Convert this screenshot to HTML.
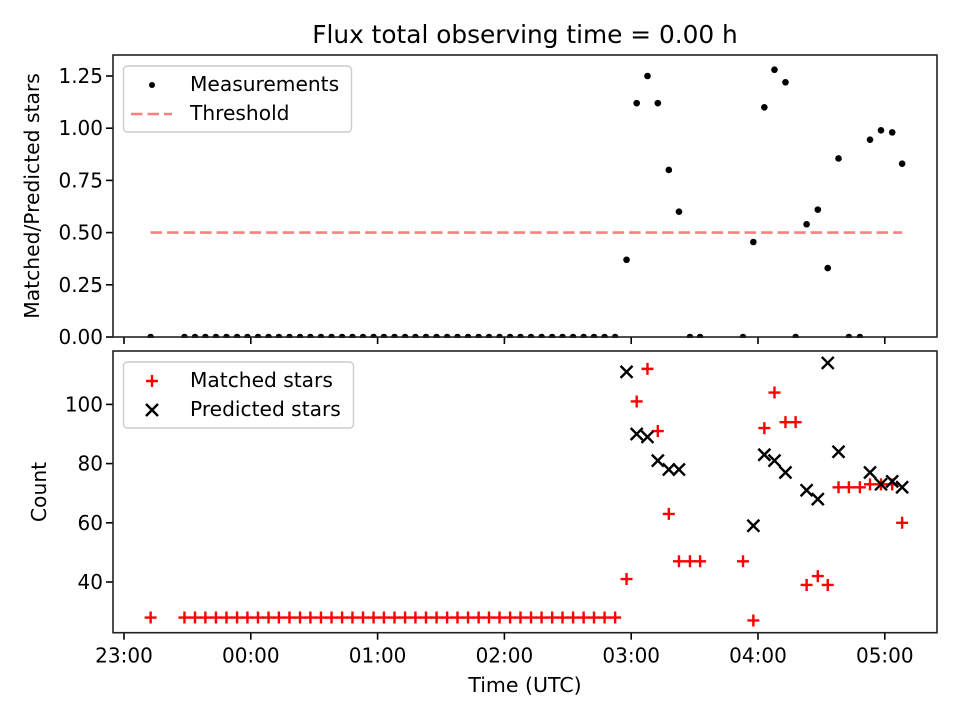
<!DOCTYPE html>
<html><head><meta charset="utf-8"><style>
body{margin:0;background:#fff}
svg{display:block;font-family:"DejaVu Sans","Liberation Sans",sans-serif}
</style></head><body>
<svg id="chart" width="960" height="720" viewBox="0 0 960 720">
<rect width="960" height="720" fill="#fff"/>
<text x="525" y="43" font-size="24.8" text-anchor="middle" fill="#000">Flux total observing time = 0.00 h</text>
<text x="525" y="692" font-size="20.5" text-anchor="middle">Time (UTC)</text>
<text transform="translate(39,196) rotate(-90)" font-size="20.3" text-anchor="middle">Matched/Predicted stars</text>
<text transform="translate(46,492) rotate(-90)" font-size="20.3" text-anchor="middle">Count</text>
<g id="top"></g>
<g id="bot"></g>
</svg>
<script>
// minutes after 23:00 UTC
const times = [12.6,28.6,33.6,38.5,43.5,48.5,53.5,58.4,63.4,68.4,73.3,78.3,83.3,88.2,93.2,98.2,103.2,108.1,113.1,118.1,123.0,128.0,133.0,137.9,142.9,147.9,152.9,157.8,162.8,167.8,172.7,177.7,182.7,187.6,192.6,197.6,202.6,207.5,212.5,217.5,222.4,227.4,232.4,
237.8,242.6,247.7,252.6,257.8,262.6,267.8,272.6,292.9,297.8,303.0,307.8,313.0,317.8,323.0,328.3,333.0,338.1,343.0,348.2,353.0,358.2,363.5,368.2];
const matched = [28,28,28,28,28,28,28,28,28,28,28,28,28,28,28,28,28,28,28,28,28,28,28,28,28,28,28,28,28,28,28,28,28,28,28,28,28,28,28,28,28,28,28,
41,101,112,91,63,47,47,47,47,27,92,104,94,94,39,42,39,72,72,72,73,73,73,60];
const predicted = [null,null,null,null,null,null,null,null,null,null,null,null,null,null,null,null,null,null,null,null,null,null,null,null,null,null,null,null,null,null,null,null,null,null,null,null,null,null,null,null,null,null,null,
111,90,89,81,78,78,null,null,null,59,83,81,77,null,71,68,114,84,null,null,77,73,74,72];
const ratio = [0,0,0,0,0,0,0,0,0,0,0,0,0,0,0,0,0,0,0,0,0,0,0,0,0,0,0,0,0,0,0,0,0,0,0,0,0,0,0,0,0,0,0,
0.37,1.12,1.25,1.12,0.80,0.60,0,0,0,0.455,1.10,1.28,1.22,0,0.54,0.61,0.33,0.855,0,0,0.945,0.99,0.98,0.83];
const threshold = 0.5;
const xTickLabels = ["23:00","00:00","01:00","02:00","03:00","04:00","05:00"];
const xTickMinutes = [0,60,120,180,240,300,360];
const topTicks = [0,0.25,0.5,0.75,1.0,1.25];
const botTicks = [40,60,80,100];

const NS="http://www.w3.org/2000/svg";
function mk(tag,attrs,parent){const e=document.createElementNS(NS,tag);for(const k in attrs)e.setAttribute(k,attrs[k]);parent.appendChild(e);return e;}
const L=113,R=937;
const xs = m => 124 + m*126.8/60;
const yTop = v => 337 - v*208.8;
const yBot = v => 582 - (v-40)*2.96;
const DASH='11.5,5';

function frame(g,top,bottom,ticks,yf,fmt,labels,name){
  ticks.forEach(t=>{
    const y=yf(t);
    const tk=mk('line',{x1:L-7,x2:L,y1:y,y2:y,stroke:'#000','stroke-width':1.6},g);
    
    
    const tx=mk('text',{x:L-10,y:y+7,'font-size':20,'text-anchor':'end'},g);
    tx.textContent=fmt(t);
    
    
  });
  xTickMinutes.forEach((m,i)=>{
    const x=xs(m);
    const tk=mk('line',{x1:x,x2:x,y1:bottom,y2:bottom+7,stroke:'#000','stroke-width':1.6},g);
    
    
    if(labels){
      const tx=mk('text',{x:x,y:bottom+30,'font-size':20,'text-anchor':'middle'},g);
      tx.textContent=xTickLabels[i];
      
      
    }
  });
}
function border(g,top,bottom,name){
  const r=mk('rect',{x:L,y:top,width:R-L,height:bottom-top,fill:'none',stroke:'#222','stroke-width':1.6},g);
  
  
}
function plus(g,x,y){return mk('path',{d:`M${x-6},${y}H${x+6}M${x},${y-6}V${y+6}`,stroke:'#f00','stroke-width':2.4,fill:'none'},g);}
function cross(g,x,y){return mk('path',{d:`M${x-6},${y-6}L${x+6},${y+6}M${x-6},${y+6}L${x+6},${y-6}`,stroke:'#000','stroke-width':2.4,fill:'none'},g);}

// top panel
const gt=document.getElementById('top');
const tl=mk('line',{x1:xs(times[0]),x2:xs(times[times.length-1]),y1:yTop(threshold),y2:yTop(threshold),stroke:'#ff7f7f','stroke-width':2.6,'stroke-dasharray':DASH},gt);


times.forEach((m,i)=>{
  const c=mk('circle',{cx:xs(m),cy:yTop(ratio[i]),r:3.3,fill:'#000'},gt);
  
  
});
mk('rect',{x:L,y:338,width:R-L,height:12,fill:'#fff'},gt);
frame(gt,55,337,topTicks,yTop,v=>v.toFixed(2),false,'top');
border(gt,55,337,'top');
const lg1=mk('g',{},gt);


mk('rect',{x:123.5,y:66,width:228,height:66,rx:4,fill:'#fff','fill-opacity':0.8,stroke:'#ccc','stroke-width':1.4},lg1);
mk('circle',{cx:152,cy:85,r:3,fill:'#000'},lg1);
let t=mk('text',{x:190,y:91,'font-size':20.2},lg1);t.textContent='Measurements';
mk('line',{x1:131,x2:172,y1:114,y2:114,stroke:'#ff7f7f','stroke-width':2.6,'stroke-dasharray':DASH},lg1);
t=mk('text',{x:190,y:120,'font-size':20.2},lg1);t.textContent='Threshold';

// bottom panel
const gb=document.getElementById('bot');
times.forEach((m,i)=>{
  const p=plus(gb,xs(m),yBot(matched[i]));
  
  
});
times.forEach((m,i)=>{
  if(predicted[i]==null)return;
  const p=cross(gb,xs(m),yBot(predicted[i]));
  
  
});
frame(gb,351,632.7,botTicks,yBot,v=>String(v),true,'bottom');
border(gb,351,632.7,'bottom');
const lg2=mk('g',{},gb);


mk('rect',{x:123.5,y:362,width:230,height:66,rx:4,fill:'#fff','fill-opacity':0.8,stroke:'#ccc','stroke-width':1.4},lg2);
plus(lg2,152,381);
t=mk('text',{x:190,y:387,'font-size':20.2},lg2);t.textContent='Matched stars';
cross(lg2,152,410);
t=mk('text',{x:190,y:416,'font-size':20.2},lg2);t.textContent='Predicted stars';
</script>
</body></html>
